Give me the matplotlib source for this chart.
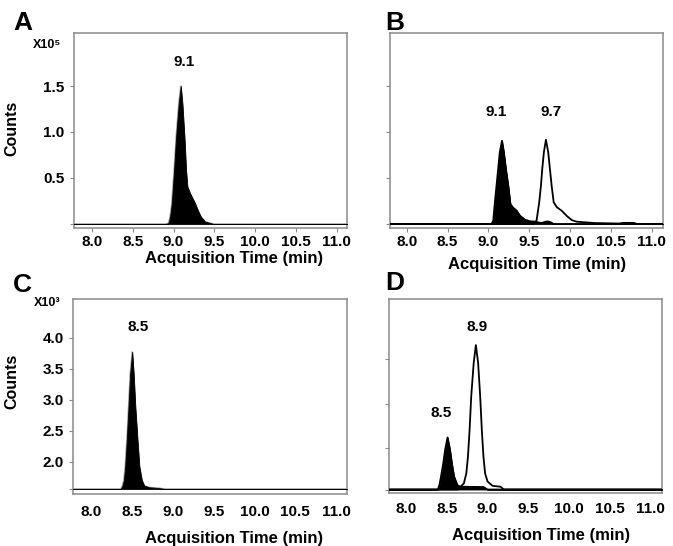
import matplotlib
matplotlib.use("Agg")
import matplotlib.pyplot as plt

plt.rcParams['font.family'] = ['Liberation Sans', 'DejaVu Sans']
plt.rcParams['font.weight'] = 'bold'

# ---------------- data ----------------
x_ticks = [8.0, 8.5, 9.0, 9.5, 10.0, 10.5, 11.0]
x_tick_labels = ["8.0", "8.5", "9.0", "9.5", "10.0", "10.5", "11.0"]

# Panel A (x10^5 counts)
A_time = [7.78, 8.90, 8.938, 8.958, 8.979, 9.007, 9.032, 9.064, 9.089, 9.109,
          9.134, 9.154, 9.170, 9.203, 9.264, 9.297, 9.334, 9.387, 9.49, 10.06, 11.13]
A_counts = [0, 0, 0.008, 0.08, 0.225, 0.587, 0.949, 1.31, 1.50, 1.31,
            0.949, 0.587, 0.406, 0.333, 0.225, 0.152, 0.08, 0.025, 0.0, 0.0, 0.0]
A_yticks = [0.0, 0.5, 1.0, 1.5]
A_ytick_labels = ["", "0.5", "1.0", "1.5"]

# Panel B (x10^5 counts)
B_time_1 = [7.80, 9.04, 9.06, 9.08, 9.10, 9.12, 9.14, 9.167, 9.19, 9.215, 9.244,
            9.27, 9.30, 9.346, 9.387, 9.448, 9.51, 9.57, 9.65, 9.70, 9.73, 9.76, 9.80, 11.14]
B_counts_1 = [0, 0, 0.036, 0.236, 0.416, 0.598, 0.78, 0.905, 0.78, 0.598, 0.416,
              0.217, 0.181, 0.145, 0.09, 0.047, 0.03, 0.025, 0.01, 0.025, 0.028, 0.02, 0.0, 0]
B_time_2 = [7.80, 9.55, 9.59, 9.623, 9.644, 9.66, 9.68, 9.705, 9.733, 9.754, 9.775,
            9.80, 9.84, 9.897, 9.958, 10.02, 10.08, 10.30, 10.60, 10.65, 10.78, 10.82, 11.14]
B_counts_2 = [0, 0, 0.036, 0.236, 0.416, 0.598, 0.78, 0.916, 0.78, 0.598, 0.416,
              0.236, 0.181, 0.145, 0.09, 0.043, 0.025, 0.01, 0.005, 0.012, 0.012, 0.0, 0]

# Panel C (x10^3 counts)
C_time = [7.78, 8.36, 8.38, 8.40, 8.416, 8.436, 8.457, 8.477, 8.502, 8.52, 8.54,
          8.567, 8.59, 8.62, 8.65, 8.71, 8.84, 8.90, 11.13]
C_counts = [1.558, 1.558, 1.60, 1.70, 1.92, 2.35, 2.89, 3.42, 3.77, 3.42, 2.89,
            2.35, 1.92, 1.70, 1.61, 1.585, 1.57, 1.558, 1.558]
C_baseline = 1.558
C_yticks = [1.558, 2.0, 2.5, 3.0, 3.5, 4.0]
C_ytick_labels = ["", "2.0", "2.5", "3.0", "3.5", "4.0"]

# Panel D (x10^3 counts)
D_time_1 = [7.79, 8.39, 8.41, 8.43, 8.457, 8.48, 8.51, 8.54, 8.563, 8.59, 8.63,
            8.67, 8.95, 9.0, 11.14]
D_counts_1 = [1.55, 1.55, 1.62, 1.76, 1.97, 2.19, 2.39, 2.19, 1.97, 1.76, 1.62,
              1.595, 1.59, 1.55, 1.55]
D_time_2 = [7.79, 8.64, 8.67, 8.71, 8.74, 8.76, 8.78, 8.80, 8.83, 8.857, 8.885,
            8.91, 8.93, 8.95, 8.97, 9.0, 9.06, 9.16, 9.20, 11.14]
D_counts_2 = [1.55, 1.55, 1.595, 1.65, 1.81, 2.08, 2.51, 3.05, 3.585, 3.88, 3.585,
              3.05, 2.51, 2.08, 1.81, 1.68, 1.61, 1.595, 1.55, 1.55]
D_baseline = 1.55
D_yticks = [1.55, 2.22, 2.93, 3.65]

# peak labels: (text, x, y)
A_peaks = [("9.1", 9.13, 1.76)]
B_peaks = [("9.1", 9.093, 1.22), ("9.7", 9.766, 1.22)]
C_peaks = [("8.5", 8.58, 4.17)]
D_peaks = [("8.9", 8.873, 4.17), ("8.5", 8.43, 2.79)]

# ---------------- figure ----------------
W, H = 673, 546
fig = plt.figure(figsize=(W / 100, H / 100), dpi=100)

def rect(l, t, r, b):
    return [l / W, 1 - b / H, (r - l) / W, (b - t) / H]

axA = fig.add_axes(rect(74, 33.3, 347.3, 228.3))
axB = fig.add_axes(rect(390, 33.3, 663.3, 228.3))
axC = fig.add_axes(rect(73.3, 299.3, 346.7, 494))
axD = fig.add_axes(rect(389.3, 299.3, 662.3, 493.3))

frame_col = '#8a8a8a'
tick_fs = 11
lab_fs = 12

def style(ax, xlim, ylim, xtickmarks, xpad):
    ax.set_xlim(*xlim)
    ax.set_ylim(*ylim)
    for s in ax.spines.values():
        s.set_color(frame_col)
        s.set_linewidth(1.1)
    ax.set_xticks(x_ticks, x_tick_labels)
    ax.tick_params(axis='x', direction='out', length=3 if xtickmarks else 0,
                   width=0.8, color=frame_col, labelsize=tick_fs, pad=xpad)
    ax.tick_params(axis='y', direction='out', length=3, width=0.8,
                   color=frame_col, labelsize=tick_fs, pad=4)
    for lab in ax.get_xticklabels() + ax.get_yticklabels():
        lab.set_fontweight('bold')

# Panel A
style(axA, (7.78, 11.13), (-0.047, 2.073), True, 2)
axA.set_yticks(A_yticks, A_ytick_labels)
for lab in axA.get_yticklabels():
    lab.set_fontweight('bold')
axA.plot(A_time, A_counts, color='#9a9a9a', lw=1.0, zorder=2)
axA.fill_between(A_time, 0, A_counts, color='black', lw=0.6, edgecolor='black', zorder=3)
axA.set_ylabel("Counts", fontsize=11.5, fontweight='bold')
axA.yaxis.set_label_coords(-0.201, 0.512)
axA.set_xlabel("Acquisition Time (min)", fontsize=lab_fs, fontweight='bold')
axA.xaxis.set_label_coords(0.585, -0.118)

# Panel B
style(axB, (7.796, 11.142), (-0.047, 2.073), True, 2)
axB.set_yticks(A_yticks, [""] * len(A_yticks))
axB.plot(B_time_2, B_counts_2, color='black', lw=1.3, zorder=2)
axB.plot(B_time_1, B_counts_1, color='black', lw=1.3, zorder=3)
axB.fill_between(B_time_1, 0, B_counts_1, color='black', lw=0.6, zorder=3)
axB.set_xlabel("Acquisition Time (min)", fontsize=lab_fs, fontweight='bold')
axB.xaxis.set_label_coords(0.538, -0.145)

# Panel C
style(axC, (7.78, 11.13), (1.477, 4.618), False, 8)
axC.set_yticks(C_yticks, C_ytick_labels)
for lab in axC.get_yticklabels():
    lab.set_fontweight('bold')
axC.plot(C_time, C_counts, color='#9a9a9a', lw=1.0, zorder=2)
axC.fill_between(C_time, C_baseline, C_counts, color='black', lw=0.6, zorder=3)
axC.set_ylabel("Counts", fontsize=11.5, fontweight='bold')
axC.yaxis.set_label_coords(-0.199, 0.580)
axC.set_xlabel("Acquisition Time (min)", fontsize=lab_fs, fontweight='bold')
axC.xaxis.set_label_coords(0.588, -0.188)

# Panel D
style(axD, (7.796, 11.142), (1.489, 4.618), False, 6.5)
axD.set_yticks(D_yticks, [""] * len(D_yticks))
axD.plot(D_time_2, D_counts_2, color='black', lw=1.3, zorder=2)
axD.plot(D_time_1, D_counts_1, color='black', lw=1.3, zorder=3)
axD.fill_between(D_time_1, D_baseline, D_counts_1, color='black', lw=0.6, zorder=3)
axD.set_xlabel("Acquisition Time (min)", fontsize=lab_fs, fontweight='bold')
axD.xaxis.set_label_coords(0.556, -0.177)

for ax, peaks in ((axA, A_peaks), (axB, B_peaks), (axC, C_peaks), (axD, D_peaks)):
    for txt, x, y in peaks:
        ax.text(x, y, txt, ha='center', va='center', fontsize=11, fontweight='bold')

# panel letters and multipliers
def ftext(x, y, s, **kw):
    fig.text(x / W, 1 - y / H, s, ha='center', va='center', fontweight='bold', **kw)

ftext(22.5, 22.5, "A", fontsize=19)
ftext(395, 22.5, "B", fontsize=19)
ftext(22, 284.5, "C", fontsize=19)
ftext(395, 283.5, "D", fontsize=19)
ftext(47, 45, "X10⁵", fontsize=9)
ftext(47.5, 303.5, "X10³", fontsize=9)

fig.savefig("out.png", dpi=100)
